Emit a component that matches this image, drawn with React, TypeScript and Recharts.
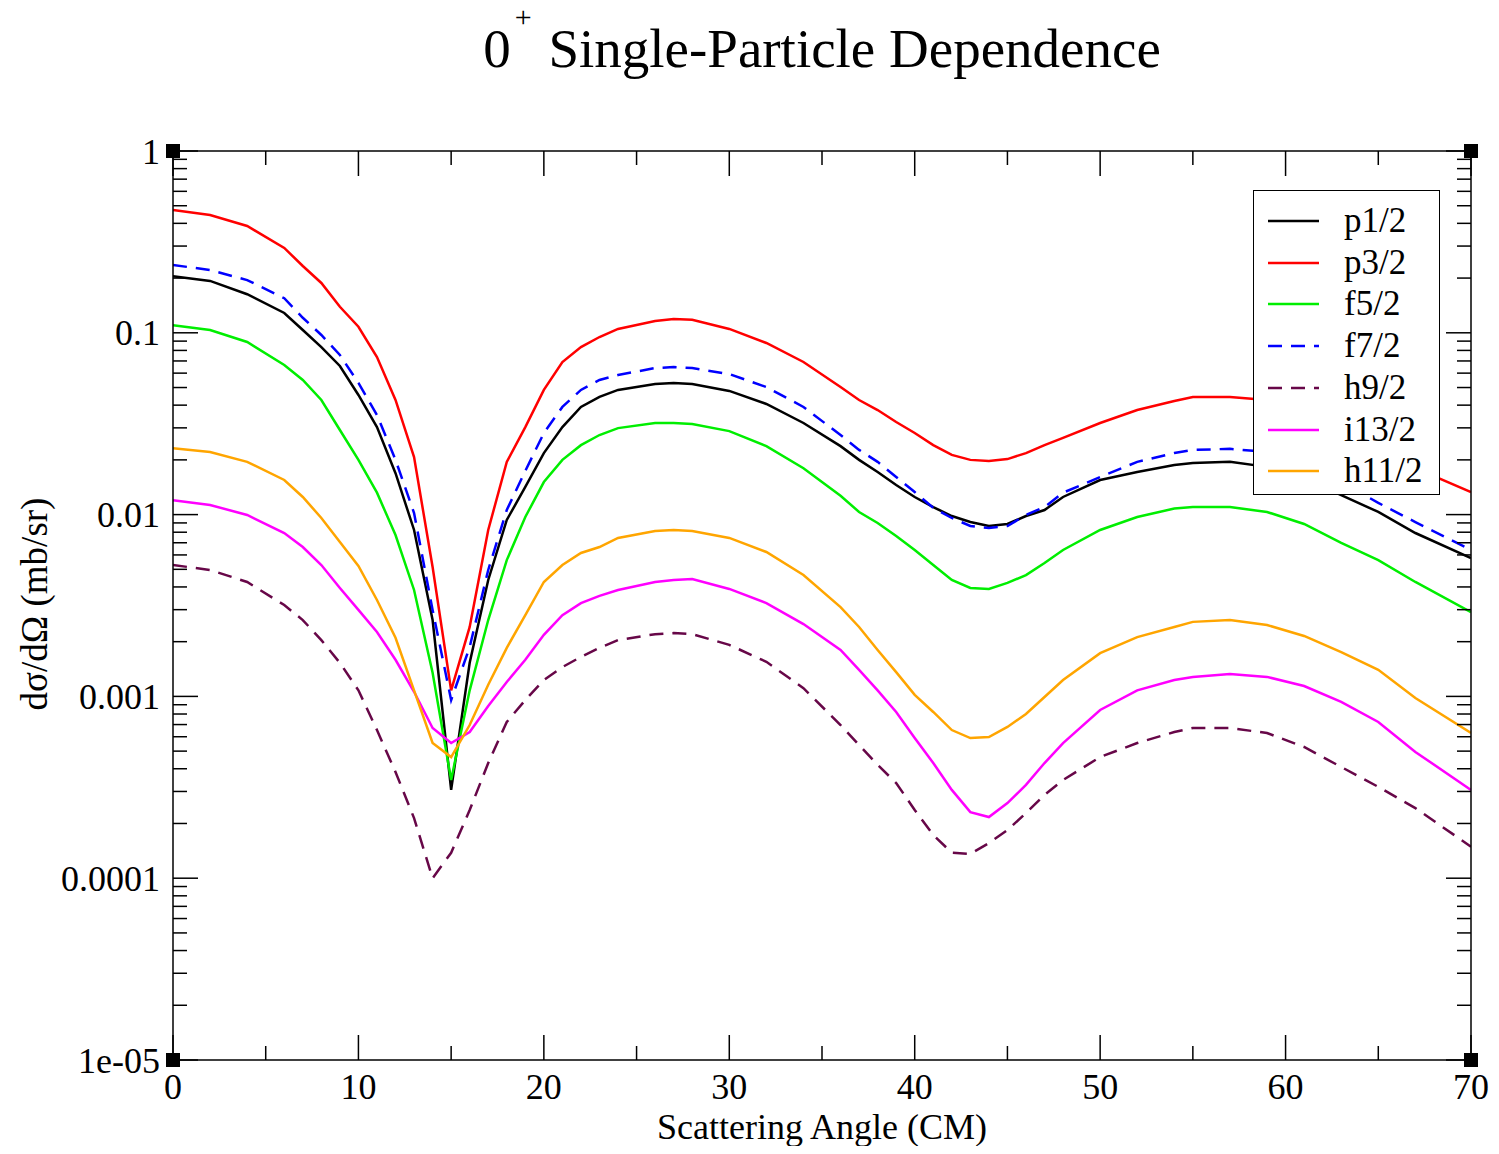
import React from "react";
import { LineChart, Line, XAxis, YAxis, ReferenceDot } from "recharts";

// scattering angle (CM, degrees) shared by every curve
const angles = [0, 2, 4, 6, 7, 8, 9, 10, 11, 12, 13, 14, 15, 16, 17, 18, 19, 20, 21, 22, 23, 24, 26, 27, 28, 30, 32, 34, 36, 37, 38, 39, 40, 41, 42, 43, 44, 45, 46, 47, 48, 50, 52, 54, 55, 57, 59, 61, 63, 65, 67, 70];

// dsigma/dOmega (mb/sr)
const p12 = [0.205, 0.193, 0.163, 0.1285, 0.1036, 0.0835, 0.0657, 0.0455, 0.0303, 0.0169, 0.00823, 0.00263, 0.000306, 0.00153, 0.00437, 0.00934, 0.0142, 0.0218, 0.0303, 0.0391, 0.0444, 0.0485, 0.0523, 0.053, 0.0523, 0.0479, 0.0406, 0.0319, 0.0238, 0.02, 0.01715, 0.01455, 0.0125, 0.011, 0.00982, 0.0091, 0.00866, 0.00888, 0.00982, 0.0106, 0.0125, 0.0155, 0.01715, 0.01874, 0.0192, 0.0195, 0.0183, 0.0159, 0.0128, 0.01034, 0.00792, 0.00577];
const p32 = [0.474, 0.445, 0.387, 0.293, 0.233, 0.188, 0.139, 0.108, 0.0736, 0.0427, 0.0207, 0.00515, 0.00108, 0.00241, 0.00823, 0.0195, 0.0303, 0.0485, 0.0691, 0.0835, 0.0948, 0.105, 0.116, 0.119, 0.118, 0.105, 0.0879, 0.0691, 0.0503, 0.0427, 0.0376, 0.0323, 0.0281, 0.0241, 0.0213, 0.02, 0.0197, 0.0202, 0.0218, 0.0241, 0.0264, 0.0319, 0.0376, 0.0422, 0.0444, 0.0444, 0.0427, 0.0376, 0.0303, 0.0235, 0.018, 0.0133];
const f52 = [0.11, 0.1036, 0.089, 0.0665, 0.055, 0.0427, 0.0292, 0.02, 0.0132, 0.00772, 0.00385, 0.00135, 0.000347, 0.00108, 0.00263, 0.00562, 0.0097, 0.0151, 0.02, 0.0241, 0.0274, 0.0299, 0.0319, 0.0319, 0.0315, 0.0288, 0.0238, 0.018, 0.0127, 0.01034, 0.00899, 0.00763, 0.00639, 0.00528, 0.00437, 0.00395, 0.0039, 0.00421, 0.00465, 0.00542, 0.00639, 0.00823, 0.0097, 0.0108, 0.011, 0.011, 0.01034, 0.00888, 0.00698, 0.00562, 0.00426, 0.00291];
const f72 = [0.236, 0.2215, 0.195, 0.155, 0.121, 0.0973, 0.0755, 0.053, 0.0353, 0.02, 0.0102, 0.00299, 0.000955, 0.00187, 0.00496, 0.0106, 0.0174, 0.0281, 0.0391, 0.0485, 0.055, 0.0586, 0.064, 0.0648, 0.064, 0.0593, 0.0503, 0.0391, 0.0274, 0.0227, 0.0195, 0.0161, 0.0133, 0.0109, 0.00958, 0.00866, 0.00844, 0.00866, 0.00995, 0.011, 0.0132, 0.0161, 0.0195, 0.0218, 0.0227, 0.023, 0.0221, 0.0192, 0.0151, 0.0116, 0.0091, 0.00639];
const h92 = [0.00528, 0.00496, 0.00426, 0.00318, 0.00263, 0.00204, 0.00153, 0.00108, 0.000653, 0.000384, 0.000214, 0.0001, 0.000138, 0.000237, 0.00043, 0.000723, 0.000955, 0.00123, 0.00145, 0.00165, 0.00185, 0.00204, 0.0022, 0.00223, 0.0022, 0.00192, 0.00155, 0.00111, 0.000696, 0.00054, 0.00042, 0.000334, 0.000237, 0.000173, 0.000138, 0.000136, 0.000156, 0.000184, 0.000228, 0.000287, 0.000347, 0.000464, 0.000554, 0.000637, 0.00067, 0.00067, 0.000629, 0.000527, 0.000409, 0.000318, 0.000243, 0.000149];
const i132 = [0.012, 0.0113, 0.00995, 0.00792, 0.00663, 0.00528, 0.00395, 0.00299, 0.00226, 0.00159, 0.00106, 0.00067, 0.000554, 0.000637, 0.000886, 0.0012, 0.00159, 0.00218, 0.0028, 0.00326, 0.00357, 0.00385, 0.00426, 0.00437, 0.00442, 0.0039, 0.00326, 0.0025, 0.0018, 0.0014, 0.00108, 0.000821, 0.00059, 0.00043, 0.000306, 0.000231, 0.000217, 0.000259, 0.000326, 0.00043, 0.000554, 0.000842, 0.00108, 0.00123, 0.00128, 0.00133, 0.00128, 0.00114, 0.000932, 0.000723, 0.000495, 0.000306];
const h112 = [0.0232, 0.0221, 0.0195, 0.0155, 0.0125, 0.00958, 0.00707, 0.00522, 0.00339, 0.0021, 0.00108, 0.000554, 0.000464, 0.000696, 0.00116, 0.00185, 0.0028, 0.00426, 0.00528, 0.00615, 0.00663, 0.00744, 0.00812, 0.00823, 0.00812, 0.00744, 0.00623, 0.00465, 0.0031, 0.00241, 0.0018, 0.00136, 0.00102, 0.000821, 0.000653, 0.00059, 0.000598, 0.000679, 0.0008, 0.000992, 0.00123, 0.00173, 0.00212, 0.00241, 0.00257, 0.00263, 0.00247, 0.00215, 0.00175, 0.0014, 0.00098, 0.000629];

// axis ticks
const xTicks = [0, 5, 10, 15, 20, 25, 30, 35, 40, 45, 50, 55, 60, 65, 70];
const xLabelTicks = [0, 10, 20, 30, 40, 50, 60, 70];
const yDecades = [1e-5, 1e-4, 1e-3, 0.01, 0.1, 1];
const yDecadeLabels = ["1e-05", "0.0001", "0.001", "0.01", "0.1", "1"];
const yMinorMantissas = [2, 3, 4, 5, 6, 7, 8, 9];

// marks at the four plot corners
const cornerPoints = [
  { x: 0, y: 1 },
  { x: 70, y: 1 },
  { x: 0, y: 1e-5 },
  { x: 70, y: 1e-5 },
];

const seriesList = [
  { key: "p12", name: "p1/2", color: "#000000", dash: undefined, values: p12 },
  { key: "p32", name: "p3/2", color: "#ff0000", dash: undefined, values: p32 },
  { key: "f52", name: "f5/2", color: "#00ee00", dash: undefined, values: f52 },
  { key: "f72", name: "f7/2", color: "#0000ff", dash: "14 9", values: f72 },
  { key: "h92", name: "h9/2", color: "#670748", dash: "14 9", values: h92 },
  { key: "i132", name: "i13/2", color: "#ff00ff", dash: undefined, values: i132 },
  { key: "h112", name: "h11/2", color: "#ffa500", dash: undefined, values: h112 },
];

const chartData = angles.map((angle, i) => {
  const row: Record<string, number> = { angle };
  seriesList.forEach((s) => {
    row[s.key] = s.values[i];
  });
  return row;
});

const yMinorTicks = yDecades
  .slice(0, -1)
  .flatMap((d) => yMinorMantissas.map((m) => Number((m * d).toPrecision(3))));
const yTicks = [...yDecades, ...yMinorTicks].sort((a, b) => a - b);

const FONT = '"Liberation Serif", "Times New Roman", serif';
const W = 1483;
const H = 1138;
const MAJOR = 25;
const MINOR = 14;
const GAP = 13;

const decadeIndex = (v: number) =>
  yDecades.findIndex((d) => Math.abs(Math.log10(v) - Math.log10(d)) < 1e-6);

const LeftTick = (props: any) => {
  const { x, y, payload } = props;
  const idx = decadeIndex(payload.value);
  const x0 = x + GAP;
  return (
    <g>
      <line x1={x0} x2={x0 + (idx >= 0 ? MAJOR : MINOR)} y1={y} y2={y} stroke="#000" strokeWidth={1.5} />
      {idx >= 0 && (
        <text x={x} y={y} dy="0.35em" textAnchor="end" fontSize={36} fontFamily={FONT} fill="#000">
          {yDecadeLabels[idx]}
        </text>
      )}
    </g>
  );
};

const RightTick = (props: any) => {
  const { x, y, payload } = props;
  const len = decadeIndex(payload.value) >= 0 ? MAJOR : MINOR;
  return <line x1={x} x2={x - len} y1={y} y2={y} stroke="#000" strokeWidth={1.5} />;
};

const BottomTick = (props: any) => {
  const { x, y, payload } = props;
  const major = xLabelTicks.includes(payload.value);
  const y0 = y - GAP;
  return (
    <g>
      <line x1={x} x2={x} y1={y0} y2={y0 - (major ? MAJOR : MINOR)} stroke="#000" strokeWidth={1.5} />
      {major && (
        <text x={x} y={y + 26} textAnchor="middle" fontSize={36} fontFamily={FONT} fill="#000">
          {payload.value}
        </text>
      )}
    </g>
  );
};

const TopTick = (props: any) => {
  const { x, y, payload } = props;
  const major = xLabelTicks.includes(payload.value);
  return <line x1={x} x2={x} y1={y} y2={y + (major ? MAJOR : MINOR)} stroke="#000" strokeWidth={1.5} />;
};

const CornerMark = (props: any) => (
  <rect x={props.cx - 7} y={props.cy - 7} width={14} height={14} fill="#000" />
);

export default function App() {
  return (
    <div style={{ position: "relative", width: W, height: H, fontFamily: FONT, color: "#000" }}>
      <div
        style={{
          position: "absolute",
          left: 314,
          top: 10,
          width: 1000,
          textAlign: "center",
          fontSize: 55,
          lineHeight: "62px",
          whiteSpace: "nowrap",
        }}
      >
        0
        <span style={{ position: "relative", display: "inline-block", width: 24, height: 1 }}>
          <span style={{ position: "absolute", left: 4, bottom: 35, fontSize: 30, lineHeight: "30px" }}>+</span>
        </span>{" "}
        Single-Particle Dependence
      </div>

      <div
        style={{
          position: "absolute",
          left: 26,
          top: 596,
          transform: "translate(-50%, -50%) rotate(-90deg)",
          fontSize: 37,
          whiteSpace: "nowrap",
        }}
      >
        dσ/dΩ (mb/sr)
      </div>

      <LineChart width={W} height={H} data={chartData} margin={{ top: 142, right: 19, bottom: 1, left: 45 }}>
        <XAxis
          xAxisId="B"
          dataKey="angle"
          type="number"
          domain={[0, 70]}
          ticks={xTicks}
          interval={0}
          height={85}
          tickSize={0}
          tickMargin={GAP}
          tick={<BottomTick />}
          axisLine={{ stroke: "#000", strokeWidth: 1.5 }}
          tickLine={false}
          allowDataOverflow
        />
        <XAxis
          xAxisId="T"
          dataKey="angle"
          orientation="top"
          type="number"
          domain={[0, 70]}
          ticks={xTicks}
          interval={0}
          height={1}
          tickSize={0}
          tickMargin={0}
          tick={<TopTick />}
          axisLine={{ stroke: "#000", strokeWidth: 1.5 }}
          tickLine={false}
          allowDataOverflow
        />
        <YAxis
          yAxisId="L"
          type="number"
          scale="log"
          domain={[1e-5, 1]}
          ticks={yTicks}
          interval={0}
          width={120}
          tickSize={0}
          tickMargin={GAP}
          tick={<LeftTick />}
          axisLine={{ stroke: "#000", strokeWidth: 1.5 }}
          tickLine={false}
          allowDataOverflow
        />
        <YAxis
          yAxisId="R"
          orientation="right"
          type="number"
          scale="log"
          domain={[1e-5, 1]}
          ticks={yTicks}
          interval={0}
          width={1}
          tickSize={0}
          tickMargin={0}
          tick={<RightTick />}
          axisLine={{ stroke: "#000", strokeWidth: 1.5 }}
          tickLine={false}
          allowDataOverflow
        />
        {seriesList.map((s) => (
          <Line
            key={s.key}
            xAxisId="B"
            yAxisId="L"
            dataKey={s.key}
            name={s.name}
            type="linear"
            stroke={s.color}
            strokeWidth={2.5}
            strokeDasharray={s.dash}
            dot={false}
            activeDot={false}
            isAnimationActive={false}
          />
        ))}
        {cornerPoints.map((p, i) => (
          <ReferenceDot
            key={i}
            xAxisId="B"
            yAxisId="L"
            x={p.x}
            y={p.y}
            r={7}
            ifOverflow="visible"
            shape={<CornerMark />}
          />
        ))}
      </LineChart>

      <div
        style={{
          position: "absolute",
          left: 314,
          top: 1099,
          width: 1000,
          textAlign: "center",
          fontSize: 36,
          lineHeight: "40px",
          whiteSpace: "nowrap",
        }}
      >
        Scattering Angle (CM)
      </div>

      <div
        style={{
          position: "absolute",
          left: 1245,
          top: 182,
          width: 185,
          height: 303,
          border: "1.5px solid #000",
          background: "#fff",
        }}
      >
        {seriesList.map((s, i) => (
          <div
            key={s.key}
            style={{
              position: "absolute",
              left: 0,
              top: 30 + i * 41.7,
              transform: "translateY(-50%)",
              display: "flex",
              alignItems: "center",
              whiteSpace: "nowrap",
            }}
          >
            <svg width={80} height={10} style={{ display: "block" }}>
              <line
                x1={14}
                x2={65}
                y1={5}
                y2={5}
                stroke={s.color}
                strokeWidth={2.5}
                strokeDasharray={s.dash}
              />
            </svg>
            <span style={{ marginLeft: 10, fontSize: 35, lineHeight: "40px" }}>{s.name}</span>
          </div>
        ))}
      </div>
    </div>
  );
}
